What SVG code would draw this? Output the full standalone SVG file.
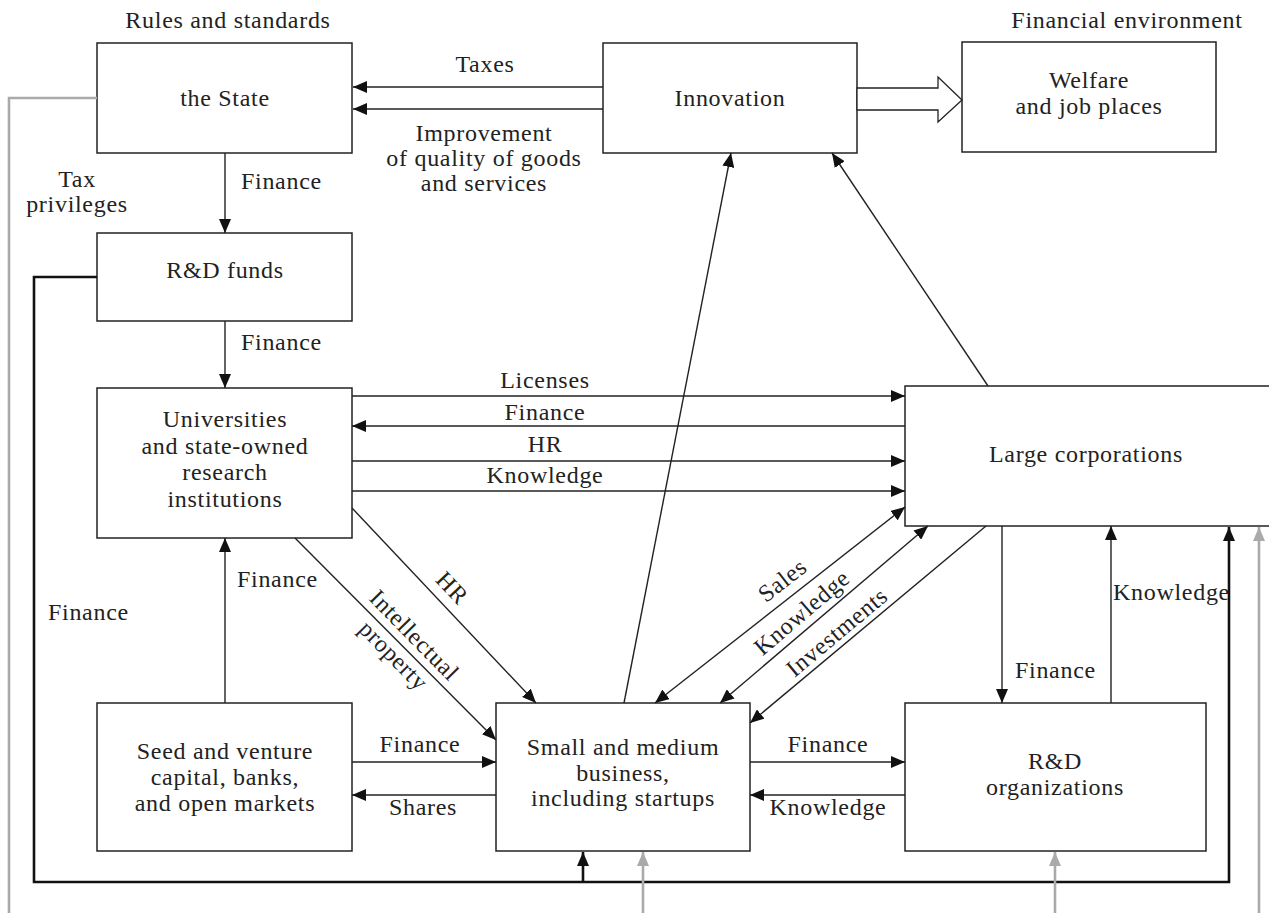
<svg xmlns="http://www.w3.org/2000/svg" width="1269" height="913" viewBox="0 0 1269 913">
<style>
text{font-family:"Liberation Serif","Times New Roman",serif;font-size:24px;fill:#222;letter-spacing:0.7px}
.c{text-anchor:middle}
.box{fill:#fff;stroke:#222;stroke-width:1.5}
.ln{fill:none;stroke:#222;stroke-width:1.4}
.thick{fill:none;stroke:#111;stroke-width:2.6}
.gray{fill:none;stroke:#aaa;stroke-width:2.6}
</style>
<defs>
<marker id="a" markerUnits="userSpaceOnUse" viewBox="0 0 14 12" refX="14" refY="6" markerWidth="14" markerHeight="12" orient="auto-start-reverse"><path d="M0,0 L14,6 L0,12 z" fill="#111"/></marker>
<marker id="g" markerUnits="userSpaceOnUse" viewBox="0 0 14 12" refX="14" refY="6" markerWidth="14" markerHeight="12" orient="auto"><path d="M0,0 L14,6 L0,12 z" fill="#aaa"/></marker>
</defs>
<text class="c" x="228" y="28">Rules and standards</text>
<text class="c" x="1127" y="28">Financial environment</text>
<g id="state"><rect class="box" x="97" y="43" width="255" height="110"/><text class="c" x="225" y="106">the State</text></g>
<g id="innovation"><rect class="box" x="603" y="43" width="254" height="110"/><text class="c" x="730" y="106">Innovation</text></g>
<g id="welfare"><rect class="box" x="962" y="42" width="254" height="110"/><text class="c" x="1089" y="88">Welfare</text><text class="c" x="1089" y="114">and job places</text></g>
<g id="rdfunds"><rect class="box" x="97" y="233" width="255" height="88"/><text class="c" x="225" y="278">R&amp;D funds</text></g>
<g id="universities"><rect class="box" x="97" y="388" width="255" height="150"/><text class="c" x="225" y="427">Universities</text><text class="c" x="225" y="454">and state-owned</text><text class="c" x="225" y="480">research</text><text class="c" x="225" y="507">institutions</text></g>
<g id="large"><rect class="box" x="905" y="386" width="380" height="140"/><text class="c" x="1086" y="462">Large corporations</text></g>
<g id="seed"><rect class="box" x="97" y="703" width="255" height="148"/><text class="c" x="225" y="759">Seed and venture</text><text class="c" x="225" y="785">capital, banks,</text><text class="c" x="225" y="811">and open markets</text></g>
<g id="smb"><rect class="box" x="496" y="703" width="254" height="148"/><text class="c" x="623" y="755">Small and medium</text><text class="c" x="623" y="781">business,</text><text class="c" x="623" y="806">including startups</text></g>
<g id="rdorg"><rect class="box" x="905" y="703" width="301" height="148"/><text class="c" x="1055" y="769">R&amp;D</text><text class="c" x="1055" y="795">organizations</text></g>
<g id="connectors">
<path class="ln" d="M603 87 H353" marker-end="url(#a)"/>
<path class="ln" d="M603 109 H353" marker-end="url(#a)"/>
<polygon points="857,88 938,88 938,77 962,100 938,122 938,110 857,110" fill="#fff" stroke="#222" stroke-width="1.3"/>
<path class="ln" d="M225 153 V233" marker-end="url(#a)"/>
<path class="ln" d="M225 321 V388" marker-end="url(#a)"/>
<path class="ln" d="M225 703 V538" marker-end="url(#a)"/>
<path class="ln" d="M352 396 H905" marker-end="url(#a)"/>
<path class="ln" d="M905 426 H352" marker-end="url(#a)"/>
<path class="ln" d="M352 461 H905" marker-end="url(#a)"/>
<path class="ln" d="M352 491 H905" marker-end="url(#a)"/>
<path class="ln" d="M352 508 L536 703" marker-end="url(#a)"/>
<path class="ln" d="M295 538 L496 740" marker-end="url(#a)"/>
<path class="ln" d="M624 703 L731 153" marker-end="url(#a)"/>
<path class="ln" d="M988 386 L832 153" marker-end="url(#a)"/>
<path class="ln" d="M905 507 L655 703" marker-start="url(#a)" marker-end="url(#a)"/>
<path class="ln" d="M928 526 L720 703" marker-start="url(#a)" marker-end="url(#a)"/>
<path class="ln" d="M986 526 L750 723" marker-end="url(#a)"/>
<path class="ln" d="M1002 526 V703" marker-end="url(#a)"/>
<path class="ln" d="M1111 703 V526" marker-end="url(#a)"/>
<path class="ln" d="M352 762 H496" marker-end="url(#a)"/>
<path class="ln" d="M496 795 H352" marker-end="url(#a)"/>
<path class="ln" d="M750 762 H905" marker-end="url(#a)"/>
<path class="ln" d="M905 795 H750" marker-end="url(#a)"/>
<path class="thick" d="M97 277 H34 V882 H1229 V527" marker-end="url(#a)"/>
<path class="thick" d="M583 882 V852" marker-end="url(#a)"/>
<path class="gray" d="M97 98 H9 V913"/>
<path class="gray" d="M643 913 V852" marker-end="url(#g)"/>
<path class="gray" d="M1055 913 V852" marker-end="url(#g)"/>
<path class="gray" d="M1259 913 V527" marker-end="url(#g)"/>
</g>
<g id="labels">
<text class="c" x="485" y="72">Taxes</text>
<text class="c" x="484" y="141">Improvement</text>
<text class="c" x="484" y="166">of quality of goods</text>
<text class="c" x="484" y="191">and services</text>
<text class="c" x="77" y="187">Tax</text>
<text class="c" x="77" y="212">privileges</text>
<text x="241" y="189">Finance</text>
<text x="241" y="350">Finance</text>
<text x="237" y="587">Finance</text>
<text x="48" y="620">Finance</text>
<text class="c" x="545" y="388">Licenses</text>
<text class="c" x="545" y="420">Finance</text>
<text class="c" x="545" y="452">HR</text>
<text class="c" x="545" y="483">Knowledge</text>
<text class="c" transform="translate(352 508) rotate(46.6)" x="127" y="-10">HR</text>
<text class="c" transform="translate(295 538) rotate(45.5)" x="153" y="-9">Intellectual</text>
<text class="c" transform="translate(295 538) rotate(45.5)" x="153" y="20">property</text>
<text class="c" transform="translate(655 703) rotate(-38.1)" x="176" y="-10">Sales</text>
<text class="c" transform="translate(720 703) rotate(-40.4)" x="121" y="-8">Knowledge</text>
<text class="c" transform="translate(750 723) rotate(-39.9)" x="125" y="-6">Investments</text>
<text x="1015" y="678">Finance</text>
<text x="1113" y="600">Knowledge</text>
<text class="c" x="420" y="752">Finance</text>
<text class="c" x="423" y="815">Shares</text>
<text class="c" x="828" y="752">Finance</text>
<text class="c" x="828" y="815">Knowledge</text>
</g>
</svg>
